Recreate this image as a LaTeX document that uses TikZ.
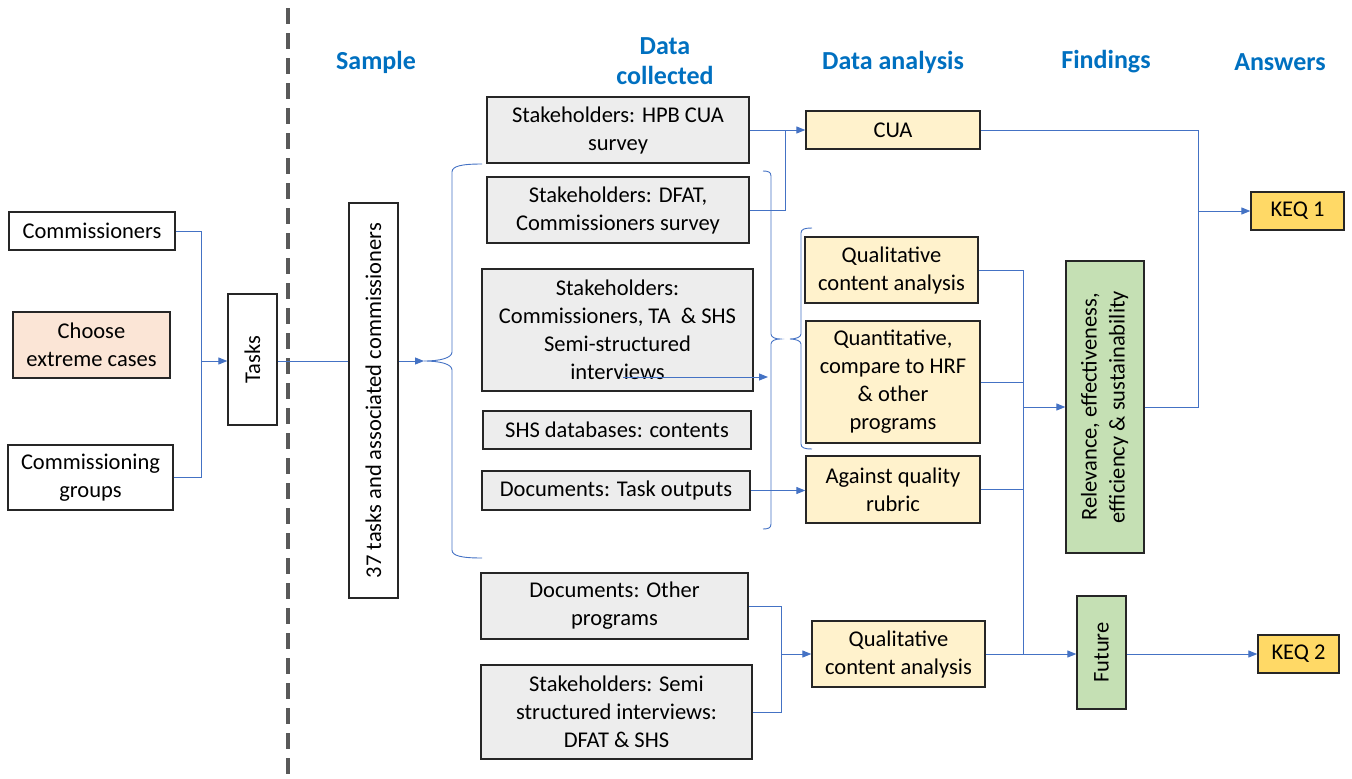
\documentclass[tikz,border=0pt]{standalone}
\usepackage{fontspec}
\setmainfont{Carlito}
\usetikzlibrary{arrows.meta}
\definecolor{lineblue}{HTML}{4472C4}
\definecolor{hdrblue}{HTML}{0070C0}
\definecolor{grayfill}{HTML}{EDEDED}
\definecolor{peach}{HTML}{FBE5D6}
\definecolor{lightyellow}{HTML}{FFF2CC}
\definecolor{lightgreen}{HTML}{C5E0B4}
\definecolor{gold}{HTML}{FFD966}
\definecolor{dashgray}{HTML}{595959}
\begin{document}
\begin{tikzpicture}[x=1pt,y=-1pt,
  box/.style={draw=black!85, line width=1.3pt, align=center, inner sep=0pt,
    font=\fontsize{22.5}{28}\selectfont},
  graybox/.style={box, fill=grayfill},
  analysis/.style={box, fill=lightyellow},
  finding/.style={box, fill=lightgreen},
  answer/.style={box, fill=gold},
  hdr/.style={text=hdrblue, align=center, font=\bfseries\fontsize{26}{30}\selectfont},
  conn/.style={draw=lineblue, line width=0.9pt},
  arr/.style={conn, -{Triangle[length=9pt,width=7pt]}},
  bracestyle/.style={draw=lineblue, line width=0.9pt},
  sz/.style 2 args={minimum width=#1pt, minimum height=#2pt}
]
\useasboundingbox (0,0) rectangle (1352,779);

% dashed divider
\draw[line width=4pt, dashgray, dash pattern=on 16pt off 9pt] (288,8) -- (288,779);

% headers
\node[hdr] (hsample) at (376,62) {Sample};
\node[hdr] (hdata) at (665,61) {Data\\collected};
\node[hdr] (hanal) at (893,62) {Data analysis};
\node[hdr] (hfind) at (1106,62) {Findings};
\node[hdr] (hans) at (1280,62) {Answers};

% left column
\node[box, sz={166}{38}] (comm) at (92,231) {Commissioners};
\node[box, fill=peach, sz={157}{66}] (choose) at (91.5,345) {Choose\\extreme cases};
\node[box, sz={165}{65}] (cgroups) at (90.5,477.5) {Commissioning\\groups};
\node[box, sz={49}{131}] (tasks) at (252.5,359.5) {\rotatebox{90}{Tasks}};
\node[box, sz={49}{395}] (t37) at (373.5,400.5) {\rotatebox{90}{37 tasks and associated commissioners}};

% data collected
\node[graybox, sz={262}{66}] (b1) at (618,130) {Stakeholders: HPB CUA\\survey};
\node[graybox, sz={262}{66}] (b2) at (618,210) {Stakeholders: DFAT,\\Commissioners survey};
\node[graybox, sz={271}{122}] (b3) at (617.5,330) {Stakeholders:\\Commissioners, TA\ \ \& SHS\\Semi-structured\\interviews};
\node[graybox, sz={268}{38}] (b4) at (617,430) {SHS databases: contents};
\node[graybox, sz={268}{39}] (b5) at (616,490.5) {Documents: Task outputs};
\node[graybox, sz={267}{66}] (b6) at (614.5,606) {Documents: Other\\programs};
\node[graybox, sz={271}{94}] (b7) at (616.5,712) {Stakeholders: Semi\\structured interviews:\\DFAT \& SHS};

% analysis
\node[analysis, sz={174}{38}] (cua) at (893,130) {CUA};
\node[analysis, sz={173}{66}] (qca1) at (891.5,270) {Qualitative\\content analysis};
\node[analysis, sz={174}{122}] (quant) at (893,382) {Quantitative,\\compare to HRF\\\& other\\programs};
\node[analysis, sz={174}{67}] (rubric) at (893,489.5) {Against quality\\rubric};
\node[analysis, sz={173}{66}] (qca2) at (898.5,654) {Qualitative\\content analysis};

% findings
\node[finding, sz={78}{292}] (rel) at (1105,407) {\rotatebox{90}{\begin{tabular}{@{}c@{}}Relevance, effectiveness,\\efficiency \& sustainability\end{tabular}}};
\node[finding, sz={49}{113}] (future) at (1101.5,652.5) {\rotatebox{90}{Future}};

% answers
\node[answer, sz={93}{38}] (keq1) at (1297.5,211) {KEQ 1};
\node[answer, sz={81}{38}] (keq2) at (1298.5,654) {KEQ 2};

% junction coordinates
\coordinate (jt) at (201,361);
\coordinate (btip) at (424,361);
\coordinate (jc) at (785,130);
\coordinate (b3s) at (623,377);
\coordinate (b3e) at (768,377);
\coordinate (jq) at (781,654);
\coordinate (jr) at (1023,407);
\coordinate (jk) at (1198,211);

% connectors left
\draw[conn] (comm.east) -| (jt);
\draw[conn] (cgroups.east) -| (jt);
\draw[arr] (jt) -- (jt -| tasks.west);
\draw[conn] (jt -| tasks.east) -- (jt -| t37.west);
\draw[arr] (jt -| t37.east) -- (btip);

% braces
\draw[bracestyle] (482,164) .. controls (462,164) and (452,166) .. (452,172) -- (452,352)
  .. controls (452,358) and (440,361) .. (btip)
  .. controls (440,361) and (452,364) .. (452,370) -- (452,550)
  .. controls (452,556) and (462,558) .. (482,558);
\draw[bracestyle] (763,171) .. controls (768,171) and (771,172) .. (771,176) -- (771,334)
  .. controls (771,337) and (775,339) .. (780,339)
  .. controls (775,339) and (771,341) .. (771,344) -- (771,524)
  .. controls (771,528) and (768,529) .. (763,529);
\draw[bracestyle] (812,228) .. controls (805,228) and (801,229) .. (801,233) -- (801,334)
  .. controls (801,337) and (796,339) .. (790,339)
  .. controls (796,339) and (801,341) .. (801,344) -- (801,444)
  .. controls (801,448) and (805,449) .. (812,449);

% data -> analysis
\draw[arr] (b1.east) -- (cua.west);
\draw[conn] (b2.east) -| (jc);
\draw[arr] (b3s) -- (b3e);
\draw[arr] (b5.east) -- (b5.east -| rubric.west);
\draw[conn] (b6.east) -| (jq);
\draw[conn] (b7.east) -| (jq);
\draw[arr] (jq) -- (qca2.west);

% analysis -> findings
\draw[conn] (qca1.east) -| (jr);
\draw[conn] (quant.east) -| (jr);
\draw[conn] (rubric.east) -| (jr);
\draw[arr] (jr) -- (jr -| rel.west);
\draw[conn] (jr) -- (jr |- qca2.east);
\draw[arr] (qca2.east) -- (qca2.east -| future.west);

% findings -> answers
\draw[conn] (cua.east) -| (jk);
\draw[conn] (rel.east) -| (jk);
\draw[arr] (jk) -- (keq1.west);
\draw[arr] (future.east |- keq2.west) -- (keq2.west);
\end{tikzpicture}
\end{document}
